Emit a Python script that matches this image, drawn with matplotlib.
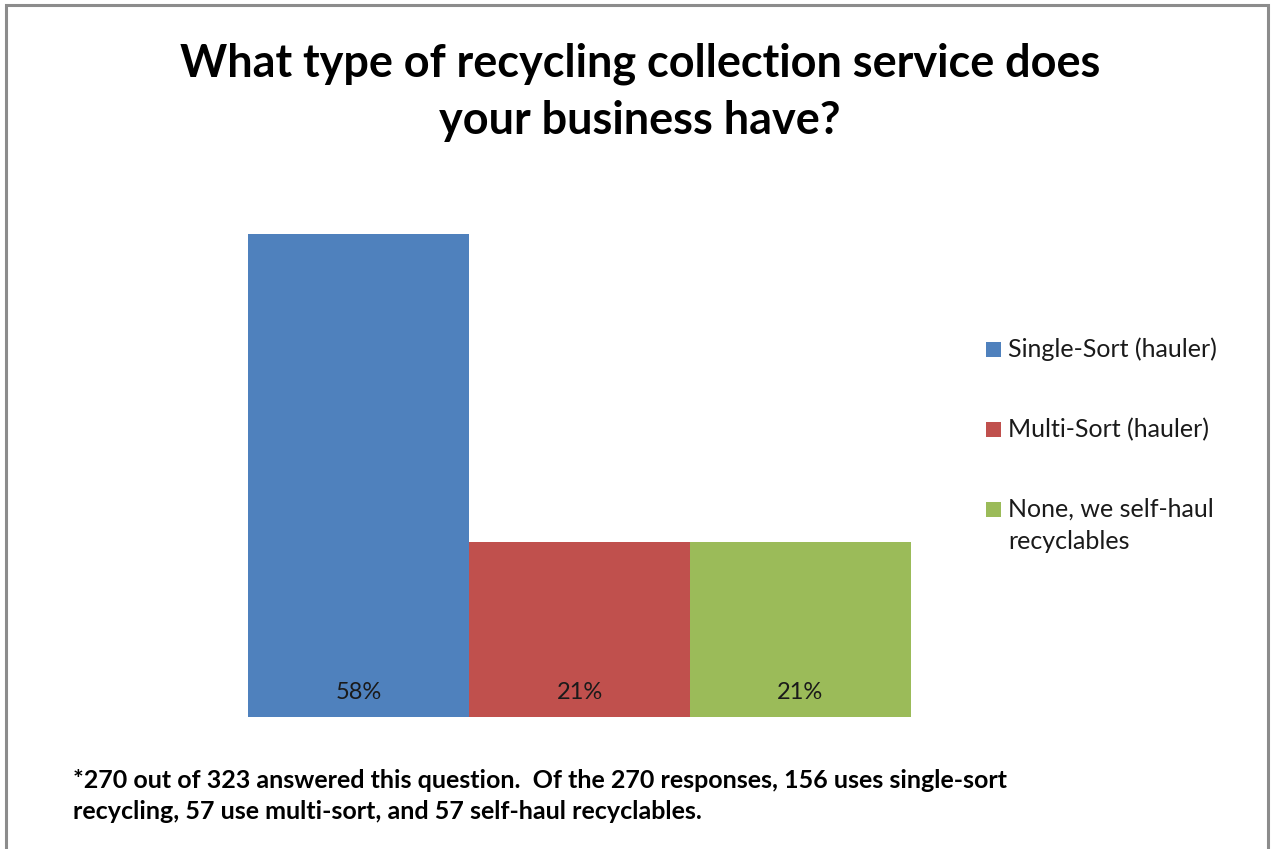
import matplotlib
matplotlib.use("Agg")
import matplotlib.pyplot as plt
from matplotlib.patches import Rectangle

categories = ["Single-Sort (hauler)", "Multi-Sort (hauler)", "None, we self-haul\nrecyclables"]
values = [58, 21, 21]
labels = ["58%", "21%", "21%"]
colors = ["#4F81BD", "#C0504D", "#9BBB59"]

title = "What type of recycling collection service does\nyour business have?"
footnote = ("*270 out of 323 answered this question.  Of the 270 responses, 156 uses single-sort\n"
            "recycling, 57 use multi-sort, and 57 self-haul recyclables.")

W, H = 1274, 849
fig = plt.figure(figsize=(W / 100, H / 100), dpi=100)
fig.patch.set_facecolor("white")
plt.rcParams['font.family'] = ['Lato', 'DejaVu Sans']

# outer border
fig.patches.append(Rectangle((6 / W, -0.01), (1268 - 6) / W, 1 - 5 / H + 0.01,
                             transform=fig.transFigure, fill=False,
                             edgecolor="#8c8c8c", linewidth=2.2))

# axes: x from 248 to 911, y from 134 (top) to 717 (bottom)
ax = fig.add_axes([248 / W, 1 - 717 / H, (911 - 248) / W, (717 - 134) / H])
x = list(range(len(values)))
ax.bar(x, values, width=1.0, color=colors, edgecolor="none")
ax.set_xlim(-0.5, len(values) - 0.5)
ax.set_ylim(0, 70)
ax.axis("off")
for xi, lab in zip(x, labels):
    ax.text(xi, 3, lab, ha="center", va="center", fontsize=17, color="#1a1a1a")

fig.text(640 / W, 1 - 92 / H, title, ha="center", va="center", fontsize=32.4,
         fontweight="bold", linespacing=1.45, color="black")

# manual legend
leg_y = [350, 430, 510]
for yy, c, cat in zip(leg_y, colors, categories):
    fig.patches.append(Rectangle((986 / W, 1 - (yy + 7) / H), 15 / W, 15 / H,
                                 transform=fig.transFigure, facecolor=c, edgecolor="none"))
    for i, line in enumerate(cat.split("\n")):
        fig.text(1008 / W, 1 - (yy + 7 + 32 * i) / H, line, ha="left", va="baseline",
                 fontsize=18, color="#1a1a1a")

fig.text(73 / W, 1 - 796 / H, footnote, ha="left", va="center", fontsize=18,
         fontweight="bold", linespacing=1.38, color="black")

fig.savefig("out.png", dpi=100, facecolor="white")
